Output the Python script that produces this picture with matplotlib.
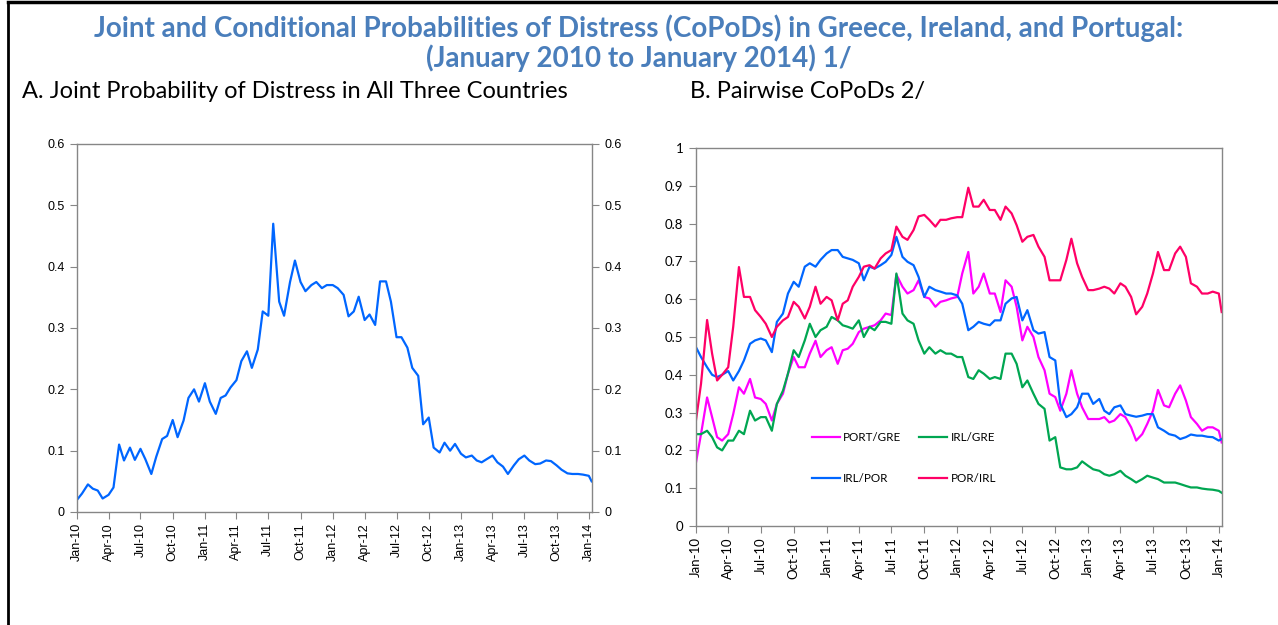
import matplotlib

matplotlib.use("Agg")

import matplotlib.dates as mdates  # noqa: E402
import matplotlib.pyplot as plt  # noqa: E402
import pandas as pd  # noqa: E402
from matplotlib.lines import Line2D  # noqa: E402
from matplotlib.ticker import FuncFormatter, MultipleLocator  # noqa: E402

plt.rcParams["font.family"] = ["Lato", "DejaVu Sans"]

# semi-monthly readings (1st and 15th), plus the last observation in Jan-14
dates = list(pd.date_range("2010-01-01", "2014-01-01", freq="SMS")) + [pd.Timestamp("2014-01-09")]

# Panel A: joint probability of distress in all three countries
joint = [
    0.020, 0.030, 0.045, 0.038, 0.035, 0.022, 0.028, 0.040, 0.110, 0.084, 0.105, 0.085,
    0.103, 0.086, 0.062, 0.090, 0.119, 0.124, 0.150, 0.122, 0.149, 0.186, 0.200, 0.180,
    0.210, 0.180, 0.160, 0.186, 0.190, 0.203, 0.215, 0.246, 0.262, 0.235, 0.265, 0.327,
    0.320, 0.470, 0.343, 0.320, 0.375, 0.410, 0.375, 0.360, 0.370, 0.375, 0.365, 0.370,
    0.370, 0.365, 0.354, 0.319, 0.327, 0.351, 0.313, 0.322, 0.305, 0.376, 0.376, 0.343,
    0.285, 0.285, 0.268, 0.235, 0.222, 0.143, 0.154, 0.105, 0.097, 0.113, 0.100, 0.111,
    0.095, 0.089, 0.092, 0.084, 0.081, 0.086, 0.092, 0.081, 0.074, 0.062, 0.076, 0.086,
    0.092, 0.084, 0.078, 0.079, 0.084, 0.083, 0.076, 0.069, 0.063, 0.062, 0.062, 0.061,
    0.059, 0.050,
]

# Panel B: pairwise CoPoDs
port_gre = [
    0.168, 0.243, 0.340, 0.288, 0.235, 0.226, 0.243, 0.296, 0.367, 0.350, 0.389, 0.340,
    0.336, 0.323, 0.279, 0.323, 0.350, 0.403, 0.447, 0.420, 0.420, 0.456, 0.490, 0.447,
    0.465, 0.473, 0.429, 0.465, 0.469, 0.482, 0.513, 0.522, 0.527, 0.531, 0.544, 0.562,
    0.558, 0.665, 0.633, 0.615, 0.624, 0.650, 0.606, 0.602, 0.580, 0.593, 0.597, 0.602,
    0.606, 0.668, 0.725, 0.615, 0.633, 0.668, 0.615, 0.615, 0.566, 0.650, 0.633, 0.580,
    0.491, 0.527, 0.500, 0.447, 0.412, 0.350, 0.341, 0.305, 0.350, 0.412, 0.350, 0.314,
    0.283, 0.283, 0.283, 0.288, 0.274, 0.279, 0.296, 0.288, 0.261, 0.226, 0.243, 0.270,
    0.305, 0.360, 0.319, 0.314, 0.350, 0.372, 0.332, 0.288, 0.270, 0.252, 0.261, 0.261,
    0.252, 0.221,
]
irl_gre = [
    0.243, 0.243, 0.252, 0.235, 0.208, 0.200, 0.226, 0.226, 0.252, 0.243, 0.305, 0.279,
    0.288, 0.288, 0.252, 0.323, 0.358, 0.403, 0.465, 0.447, 0.491, 0.535, 0.500, 0.518,
    0.527, 0.553, 0.544, 0.531, 0.527, 0.522, 0.544, 0.500, 0.527, 0.518, 0.540, 0.540,
    0.535, 0.668, 0.562, 0.544, 0.535, 0.491, 0.456, 0.473, 0.456, 0.465, 0.456, 0.456,
    0.447, 0.447, 0.394, 0.389, 0.412, 0.403, 0.389, 0.394, 0.389, 0.456, 0.456, 0.429,
    0.367, 0.385, 0.350, 0.323, 0.310, 0.226, 0.235, 0.155, 0.150, 0.150, 0.155, 0.171,
    0.159, 0.150, 0.146, 0.137, 0.133, 0.137, 0.146, 0.133, 0.124, 0.115, 0.124, 0.133,
    0.128, 0.124, 0.115, 0.115, 0.115, 0.111, 0.106, 0.102, 0.102, 0.099, 0.097, 0.096,
    0.093, 0.088,
]
irl_por = [
    0.473, 0.447, 0.420, 0.400, 0.394, 0.400, 0.410, 0.385, 0.410, 0.438, 0.482, 0.491,
    0.496, 0.491, 0.460, 0.540, 0.562, 0.615, 0.646, 0.633, 0.686, 0.695, 0.686, 0.704,
    0.721, 0.730, 0.730, 0.712, 0.708, 0.704, 0.695, 0.650, 0.686, 0.681, 0.690, 0.699,
    0.717, 0.765, 0.712, 0.699, 0.690, 0.659, 0.606, 0.633, 0.624, 0.620, 0.615, 0.615,
    0.610, 0.588, 0.518, 0.527, 0.540, 0.535, 0.531, 0.544, 0.544, 0.588, 0.602, 0.606,
    0.544, 0.571, 0.518, 0.509, 0.513, 0.447, 0.438, 0.323, 0.288, 0.296, 0.314, 0.350,
    0.350, 0.323, 0.336, 0.305, 0.296, 0.314, 0.319, 0.296, 0.292, 0.289, 0.292, 0.296,
    0.296, 0.261, 0.252, 0.243, 0.239, 0.230, 0.235, 0.242, 0.239, 0.239, 0.236, 0.235,
    0.226, 0.230,
]
por_irl = [
    0.280, 0.376, 0.545, 0.456, 0.385, 0.400, 0.420, 0.527, 0.685, 0.606, 0.606, 0.571,
    0.553, 0.535, 0.500, 0.527, 0.544, 0.553, 0.593, 0.580, 0.549, 0.580, 0.633, 0.588,
    0.606, 0.597, 0.544, 0.588, 0.597, 0.633, 0.659, 0.686, 0.690, 0.681, 0.708, 0.721,
    0.730, 0.792, 0.765, 0.757, 0.783, 0.819, 0.823, 0.810, 0.792, 0.810, 0.810, 0.814,
    0.817, 0.817, 0.895, 0.845, 0.845, 0.863, 0.836, 0.836, 0.810, 0.845, 0.827, 0.796,
    0.752, 0.765, 0.770, 0.739, 0.712, 0.650, 0.650, 0.650, 0.704, 0.760, 0.695, 0.659,
    0.624, 0.624, 0.628, 0.633, 0.628, 0.615, 0.642, 0.633, 0.606, 0.560, 0.580, 0.615,
    0.668, 0.725, 0.677, 0.677, 0.721, 0.739, 0.712, 0.642, 0.633, 0.615, 0.615, 0.620,
    0.615, 0.566,
]

pair_series = [
    ("PORT/GRE", port_gre, "#FF00FF"),
    ("IRL/POR", irl_por, "#0066FF"),
    ("IRL/GRE", irl_gre, "#00A651"),
    ("POR/IRL", por_irl, "#FF0066"),
]

TITLE_COLOR = "#4A7EBB"
SPINE_COLOR = "#868686"
x_start, x_end = pd.Timestamp("2010-01-01"), pd.Timestamp("2014-01-10")


def style_axes(ax, tick_font, tick_size):
    for sp in ax.spines.values():
        sp.set_color(SPINE_COLOR)
        sp.set_linewidth(1.0)
    ax.set_xlim(x_start, x_end)
    ax.xaxis.set_major_locator(mdates.MonthLocator(bymonth=[1, 4, 7, 10]))
    ax.xaxis.set_major_formatter(mdates.DateFormatter("%b-%y"))
    ax.yaxis.set_major_locator(MultipleLocator(0.1))
    ax.yaxis.set_major_formatter(FuncFormatter(lambda v, _: f"{v:g}"))
    ax.tick_params(axis="x", labelrotation=90, direction="out", length=5,
                   color=SPINE_COLOR, pad=3, labelsize=tick_size,
                   labelfontfamily=tick_font)
    ax.tick_params(axis="y", direction="out", length=5, color=SPINE_COLOR, pad=4,
                   labelsize=tick_size, labelfontfamily=tick_font)


fig = plt.figure(figsize=(12.78, 6.25), dpi=100)

# ---- panel A --------------------------------------------------------------
ax_a = fig.add_axes([0.0603, 0.1808, 0.4029, 0.5888])
ax_a.plot(dates, joint, color="#0066FF", lw=1.6)
ax_a.set_ylim(0, 0.6)
ax_a.tick_params(axis="y", right=True, labelright=True)
style_axes(ax_a, "Liberation Sans", 9)

# ---- panel B --------------------------------------------------------------
ax_b = fig.add_axes([0.5446, 0.1584, 0.4116, 0.6048])
for label, vals, col in pair_series:
    ax_b.plot(dates, vals, color=col, lw=1.6, label=label)
ax_b.set_ylim(0, 1)
style_axes(ax_b, "Lato", 9.5)
ax_b.legend(ncol=2, loc="upper left", bbox_to_anchor=(0.2, 0.276),
            frameon=False, fontsize=8.4, handlelength=2.4, labelspacing=2.55,
            columnspacing=1.5, handletextpad=0.3)

# ---- titles ---------------------------------------------------------------
fig.text(0.5, 0.955,
         "Joint and Conditional Probabilities of Distress (CoPoDs) in Greece, Ireland, and Portugal:",
         ha="center", va="center", fontsize=20, fontweight="bold", color=TITLE_COLOR)
fig.text(0.5, 0.907, "(January 2010 to January 2014) 1/",
         ha="center", va="center", fontsize=20, fontweight="bold", color=TITLE_COLOR)
fig.text(22 / 1278, 0.853, "A. Joint Probability of Distress in All Three Countries",
         ha="left", va="center", fontsize=17)
fig.text(690 / 1278, 0.853, "B. Pairwise CoPoDs 2/",
         ha="left", va="center", fontsize=17)

# black frame on the top and left edge
fig.add_artist(Line2D([8 / 1278, 1.0], [0.997, 0.997], transform=fig.transFigure,
                      color="black", lw=2.5))
fig.add_artist(Line2D([8 / 1278, 8 / 1278], [0.0, 0.997], transform=fig.transFigure,
                      color="black", lw=2.0))

fig.savefig("out.png", dpi=100)
